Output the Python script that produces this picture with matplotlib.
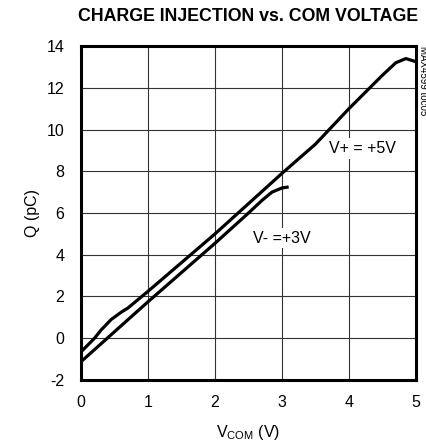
import numpy as np
import matplotlib.pyplot as plt

plt.rcParams['font.family'] = ['Liberation Sans', 'DejaVu Sans']
plt.rcParams['mathtext.fontset'] = 'custom'
plt.rcParams['mathtext.rm'] = 'Liberation Sans'
plt.rcParams['axes.unicode_minus'] = False

# V+ = +5V curve
v5_x = [0, 0.2, 0.3, 0.45, 0.6, 0.7, 1.0, 2.0, 3.0, 3.5, 4.0, 4.5, 4.7, 4.85, 5.0]
v5_q = [-0.65, 0.0, 0.4, 0.9, 1.25, 1.45, 2.25, 5.0, 7.9, 9.3, 11.0, 12.6, 13.2, 13.4, 13.25]

# V- = +3V curve
v3_x = [0, 1.0, 2.0, 2.5, 2.7, 2.85, 3.0, 3.1]
v3_q = [-1.12, 1.75, 4.55, 6.0, 6.6, 7.0, 7.2, 7.25]

xticks = [0, 1, 2, 3, 4, 5]
yticks = [-2, 0, 2, 4, 6, 8, 10, 12, 14]

fig = plt.figure(figsize=(4.27, 4.47), dpi=100)
ax = fig.add_axes([0.19, 0.15, 0.784, 0.747])
ax.set_axisbelow(True)

ax.plot(v5_x, v5_q, color='black', lw=2.3, solid_capstyle='butt', zorder=3)
ax.plot(v3_x, v3_q, color='black', lw=2.3, solid_capstyle='butt', zorder=3)

ax.set_xlim(0, 5)
ax.set_ylim(-2, 14)
ax.set_xticks(xticks)
ax.set_yticks(yticks)
ax.tick_params(length=0, labelsize=11.5)
ax.tick_params(axis='y', pad=12)
ax.tick_params(axis='x', pad=11)
ax.grid(True, color='#333333', lw=0.8)
for s in ax.spines.values():
    s.set_linewidth(2.2)

ax.set_xlabel(r'V$_{\rm COM}$ (V)', fontsize=11.5, labelpad=9)
ax.set_ylabel('Q (pC)', fontsize=11.5, labelpad=5)
ax.set_title('CHARGE INJECTION vs. COM VOLTAGE', fontsize=12.8, fontweight='bold', pad=18)

ax.text(3.7, 9.1, 'V+ = +5V', fontsize=11.5, ha='left', va='center', zorder=5,
        bbox=dict(facecolor='white', edgecolor='none', pad=2))
ax.text(2.56, 4.8, 'V- =+3V', fontsize=11.5, ha='left', va='center', zorder=5,
        bbox=dict(facecolor='white', edgecolor='none', pad=2))
fig.text(0.99, 0.897, 'MAX4599 toc05', fontsize=7, rotation=270, ha='center', va='top')

fig.savefig('out.png', dpi=100)
